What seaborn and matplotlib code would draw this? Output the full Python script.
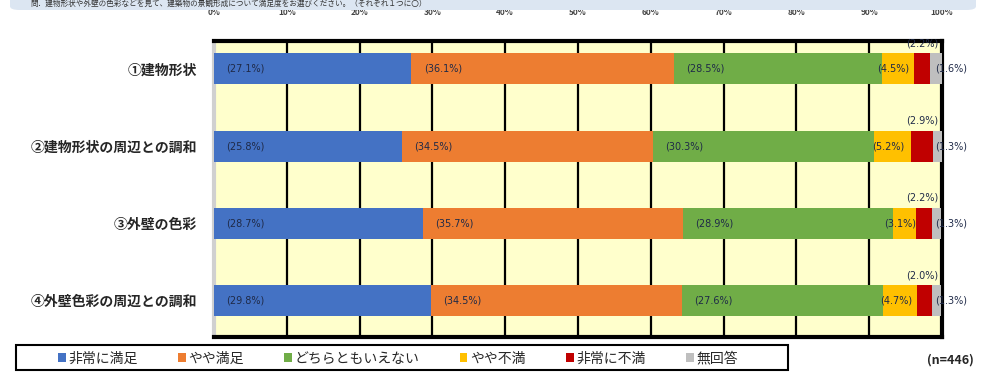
import pandas as pd
import matplotlib.pyplot as plt
import seaborn as sns
from matplotlib.patches import Patch, FancyBboxPatch, Rectangle

# data
items = ["①建物形状", "②建物形状の周辺との調和", "③外壁の色彩", "④外壁色彩の周辺との調和"]
answers = ["非常に満足", "やや満足", "どちらともいえない", "やや不満", "非常に不満", "無回答"]
colors = ["#4472C4", "#ED7D31", "#70AD47", "#FFC000", "#C00000", "#BFBFBF"]
very_satisfied = [27.1, 25.8, 28.7, 29.8]
satisfied = [36.1, 34.5, 35.7, 34.5]
neutral = [28.5, 30.3, 28.9, 27.6]
dissatisfied = [4.5, 5.2, 3.1, 4.7]
very_dissatisfied = [2.2, 2.9, 2.2, 2.0]
no_answer = [1.6, 1.3, 1.3, 1.3]
ticks = [0, 10, 20, 30, 40, 50, 60, 70, 80, 90, 100]
tick_labels = [f"{t}%" for t in ticks]
n_label = "(n=446)"
header = "問．建物形状や外壁の色彩などを見て、建築物の景観形成について満足度をお選びください。（それぞれ１つに〇）"

series = [very_satisfied, satisfied, neutral, dissatisfied, very_dissatisfied, no_answer]
df = pd.DataFrame({a: s for a, s in zip(answers, series)})
df["項目"] = items
cum = df[answers].cumsum(axis=1)
for a in answers:
    df["cum_" + a] = cum[a]

sns.set_theme(style="white")
plt.rcParams["font.family"] = ["Noto Sans CJK JP", "DejaVu Sans"]

fig = plt.figure(figsize=(9.84, 3.74), dpi=100)
ax = fig.add_axes([214 / 984, 1 - 337 / 374, 728 / 984, 296 / 374])
ax.set_facecolor("#FFFFCC")

# stacked bars: draw cumulative totals from the largest down
for a, c in reversed(list(zip(answers, colors))):
    sns.barplot(data=df, x="cum_" + a, y="項目", order=items, color=c, orient="h",
                width=0.40, linewidth=0, saturation=1, ax=ax, zorder=3)

ax.set_xlim(0, 100)
ax.set_ylim(3.47, -0.36)
ax.set_xticks(ticks)
ax.set_xticklabels(tick_labels)
ax.xaxis.tick_top()
ax.tick_params(axis="x", length=0, pad=17, labelsize=6, labelcolor="#444444")
ax.tick_params(axis="y", length=0, pad=12, labelsize=10)
for lab in ax.get_yticklabels():
    lab.set_fontweight("bold")
for lab in ax.get_xticklabels():
    lab.set_fontweight("bold")
ax.set_xlabel("")
ax.set_ylabel("")
ax.grid(axis="x", color="black", linewidth=1.6, zorder=1)
ax.grid(axis="y", visible=False)
ax.set_axisbelow(True)

for side in ["top", "right", "bottom"]:
    ax.spines[side].set_color("black")
    ax.spines[side].set_linewidth(3)
ax.spines["left"].set_color("#D0D0D0")
ax.spines["left"].set_linewidth(3)

# value labels
txt = dict(fontsize=7, color="#1F2A48", family="DejaVu Sans", zorder=5)
for i in range(len(items)):
    left = 0
    for j, a in enumerate(answers):
        v = df.loc[i, a]
        label = f"({v:.1f}%)"
        if j < 3:
            ax.text(left + 1.7, i, label, ha="left", va="center", **txt)
        elif j == 3:
            ax.text(left + v / 2 - 0.6, i, label, ha="center", va="center", **txt)
        elif j == 4:
            ax.text(97.3, i - 0.33, label, ha="center", va="center", clip_on=False, **txt)
        else:
            ax.text(101.3, i, label, ha="center", va="center", clip_on=False, **txt)
        left += v

# header box at the top edge
fig.patches.append(FancyBboxPatch((10 / 984, 1 - 10 / 374), 966 / 984, 0.08,
                                  boxstyle="round,pad=0,rounding_size=0.01",
                                  transform=fig.transFigure, facecolor="#DCE6F2",
                                  edgecolor="none", zorder=0))
fig.text(30 / 984, 1 - 4.5 / 374, header, fontsize=5.5, color="#333333", va="center", ha="left")

# legend with a fixed-size frame
fig.patches.append(Rectangle((16 / 984, 4 / 374), 772 / 984, 25 / 374, transform=fig.transFigure,
                             facecolor="white", edgecolor="black", linewidth=1.5, zorder=0))
handles = [Patch(facecolor=c, edgecolor="none") for c in colors]
fig.legend(handles, answers, loc="center", ncol=6,
           bbox_to_anchor=(398 / 984, 15.5 / 374),
           fontsize=10, frameon=False,
           handlelength=0.55, handleheight=0.55, handletextpad=0.2,
           columnspacing=2.9, borderpad=0, borderaxespad=0)

fig.text(950 / 984, 14 / 374, n_label, fontsize=9, fontweight="bold", ha="center", va="center")

plt.savefig("out.png", dpi=100)
